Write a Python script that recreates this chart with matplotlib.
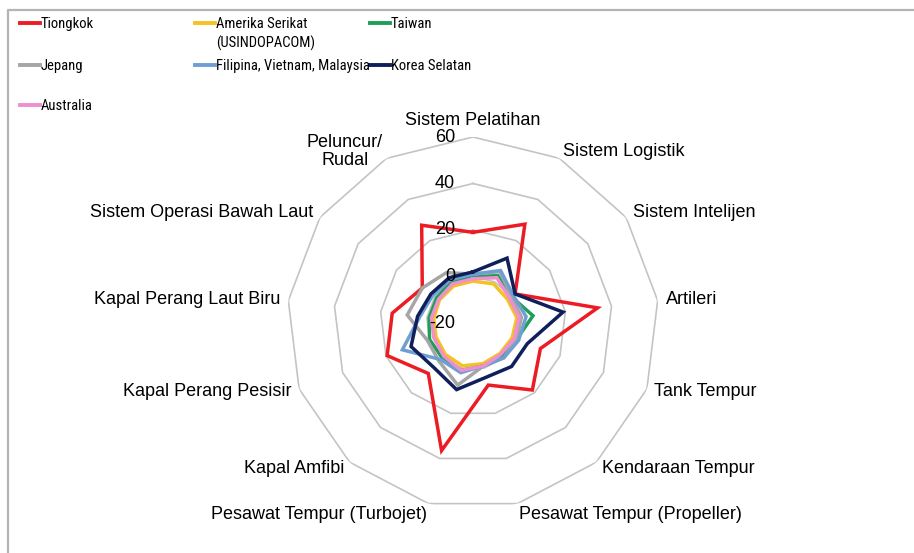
import numpy as np
import matplotlib
matplotlib.use('Agg')
import matplotlib.pyplot as plt
from matplotlib.lines import Line2D

plt.rcParams['font.family'] = ['Liberation Sans', 'DejaVu Sans']

# Categories (clockwise from the top)
categories = ['Sistem Pelatihan', 'Sistem Logistik', 'Sistem Intelijen', 'Artileri',
              'Tank Tempur', 'Kendaraan Tempur', 'Pesawat Tempur (Propeller)',
              'Pesawat Tempur (Turbojet)', 'Kapal Amfibi', 'Kapal Perang Pesisir',
              'Kapal Perang Laut Biru', 'Sistem Operasi Bawah Laut', 'Peluncur/\nRudal']

# Series values
tiongkok  = [19, 28, 2, 34, 11, 18.5, 7.5, 36.5, 9, 19.5, 15, 6.5, 27.5]
amerika   = [-2, -1, -2, -1, -2, -2.5, -2, -1, -2, -3, -3, -2.5, -2]
taiwan    = [0, 3, 0, 6, 0, -1, -1, 1, 0, 0, -1, -1, 0]
jepang    = [1, 5, 0, 1, 0, 0, -1, 7.5, 2, 1, 8.5, 6.5, 4.5]
filipina  = [1, 5.5, 1, 3, 1, 0, -1, 2, 1, 12.5, 3, 1, 1]
korea     = [2, 11.5, 2, 19, 5, 5, 4, 9.5, 5.5, 8.5, 4, 2, 2]
australia = [-1, 2, -1, 0, -1, -2, -1, 1, -1, -2, -2, -2, -1]

series_names = ['Tiongkok', 'Amerika Serikat\n(USINDOPACOM)', 'Taiwan', 'Jepang',
                'Filipina, Vietnam, Malaysia', 'Korea Selatan', 'Australia']
series_vals = [tiongkok, amerika, taiwan, jepang, filipina, korea, australia]
colors = ['#ec1c24', '#f4c322', '#1f9e5a', '#a6a6a6', '#6f9fd2', '#0f1f5c', '#f08fd0']

ring_vals = [-20, 0, 20, 40, 60]

W, H = 914, 553
fig = plt.figure(figsize=(W / 100, H / 100), dpi=100)

# chart area border (top and left only visible)
fig.add_artist(Line2D([8 / W, 8 / W, 1.0], [0.0, 1 - 10 / H, 1 - 10 / H],
                      transform=fig.transFigure, color='#b4b4b4', lw=1.6))

cx, cy, R = 473, 323, 186
ax = fig.add_axes([(cx - R) / W, (H - cy - R) / H, 2 * R / W, 2 * R / H], projection='polar')
ax.set_theta_zero_location('N')
ax.set_theta_direction(-1)
ax.set_ylim(-20, 60)
ax.grid(False)
ax.spines['polar'].set_visible(False)
ax.set_xticks([])
ax.set_yticks([])
ax.patch.set_alpha(0)

n = len(categories)
ang = np.arange(n) * 2 * np.pi / n
ang_c = np.append(ang, ang[0])

# polygonal rings
for rv in ring_vals:
    ax.plot(ang_c, [rv] * (n + 1), color='#c4c4c4', lw=1.2, zorder=1)

for vals, col in zip(series_vals, colors):
    ax.plot(ang_c, list(vals) + [vals[0]], color=col, lw=2.5, zorder=3,
            solid_joinstyle='miter')

# ring labels
for rv in ring_vals:
    ax.annotate(str(rv), xy=(0, rv), xytext=(-18, 0), textcoords='offset pixels',
                ha='right', va='center', fontsize=13, color='#000000', zorder=5)

# category labels
for a, lab in zip(ang, categories):
    deg = np.degrees(a)
    if deg < 1 or deg > 359:
        ha, va = 'center', 'bottom'
    elif deg < 179:
        ha, va = 'left', 'center'
    elif deg > 181:
        ha, va = 'right', 'center'
    else:
        ha, va = 'center', 'top'
    off = 8
    dy = off * np.cos(a)
    if np.cos(a) < -0.9:
        dy -= 3
    ax.annotate(lab, xy=(a, 60), xytext=(off * np.sin(a), dy),
                textcoords='offset pixels', ha=ha, va=va, fontsize=13,
                multialignment='center', linespacing=1.1)

# legend, drawn row by row like the original
col_x = [20, 195, 370]
row_y = [28, 70, 110]
leg_font = ['Roboto Condensed', 'Liberation Sans']
for i, (name, col) in enumerate(zip(series_names, colors)):
    r, c = divmod(i, 3)
    x0, yb = col_x[c], row_y[r]
    fig.add_artist(Line2D([x0 / W, (x0 + 20) / W], [1 - (yb - 5) / H] * 2,
                          transform=fig.transFigure, color=col, lw=2.8))
    for k, line in enumerate(name.split('\n')):
        fig.text((x0 + 21) / W, 1 - (yb + 20 * k) / H, line, ha='left', va='baseline',
                 fontsize=10.5, family=leg_font, fontstretch='condensed')

fig.savefig('out.png', dpi=100)
